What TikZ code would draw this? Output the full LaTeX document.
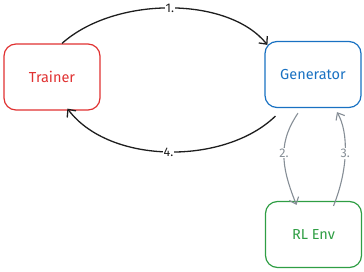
\documentclass[tikz,border=0pt]{standalone}
\usepackage{fontspec}
\setmainfont{Fira Sans}
\usetikzlibrary{arrows.meta}
\definecolor{exred}{HTML}{E03131}
\definecolor{exblue}{HTML}{1971C2}
\definecolor{exgreen}{HTML}{2F9E44}
\definecolor{exgray}{HTML}{868E96}
\definecolor{exink}{HTML}{1E1E1E}
\tikzset{
  box/.style={draw, line width=1.2pt, rounded corners=12pt, minimum width=96pt, minimum height=66pt, inner sep=0pt, font=\fontsize{14.5}{16}\selectfont},
  mainarrow/.style={draw=exink, line width=1.3pt, -{Straight Barb[length=6pt,width=11pt]}},
  envarrow/.style={draw=exgray, line width=1.1pt, -{Straight Barb[length=6pt,width=10pt]}},
  lbl/.style={fill=white, inner sep=1pt, font=\fontsize{12.5}{14}\selectfont},
}
\begin{document}
\begin{tikzpicture}[x=1pt,y=-1pt]
\useasboundingbox (0,0) rectangle (364,271);
\node[box, draw=exred, text=exred] (trainer) at (52,77) {Trainer};
\node[box, draw=exblue, text=exblue] (generator) at (313,74.5) {Generator};
\node[box, draw=exgreen, text=exgreen] (env) at (313.5,234.5) {RL Env};
\coordinate (a1s) at ([xshift=10pt]trainer.north);
\coordinate (a1e) at ([xshift=3pt,yshift=-4pt]generator.north west);
\draw[mainarrow] (a1s) .. controls (115,-4) and (228,-4) .. node[lbl, text=exink] (l1) {1.} (a1e);
\coordinate (a4s) at ([xshift=11pt,yshift=-8pt]generator.south west);
\coordinate (a4e) at ([xshift=64pt,yshift=2pt]trainer.south west);
\draw[mainarrow] (a4s) .. controls (225,165) and (110,165) .. node[lbl, text=exink] (l4) {4.} (a4e);
\coordinate (a2s) at ([xshift=-15pt,yshift=-5pt]generator.south);
\coordinate (a2e) at ([xshift=-17pt,yshift=-4pt]env.north);
\draw[envarrow] (a2s) .. controls (280,140) and (279,162) .. node[lbl, text=exgray] (l2) {2.} (a2e);
\coordinate (a3s) at ([xshift=20pt,yshift=-5pt]env.north);
\coordinate (a3e) at ([xshift=24pt,yshift=-4pt]generator.south);
\draw[envarrow] (a3s) .. controls (348,170) and (349,133) .. node[lbl, text=exgray] (l3) {3.} (a3e);
\end{tikzpicture}
\end{document}
